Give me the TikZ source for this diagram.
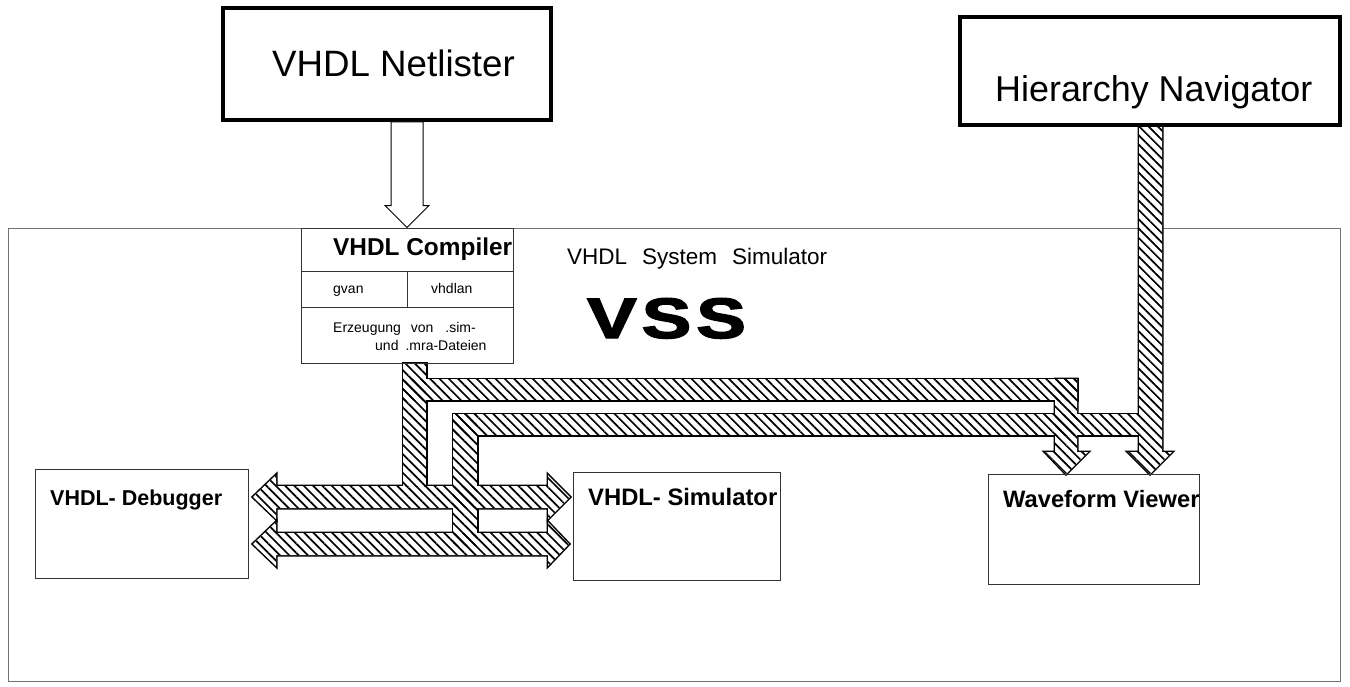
\documentclass[tikz,border=0pt]{standalone}
\usepackage{fontspec}
\usepackage{graphicx}
\setmainfont{Liberation Sans}
\newfontfamily\vssfont[FakeBold=2.5]{Liberation Sans Bold}
\usetikzlibrary{positioning,calc,patterns.meta}
\newcommand{\fsz}[1]{\fontsize{#1}{#1}\selectfont}

% hatched buses: every piece, painted three times (outline, white, hatch)
\newcommand{\buspieces}[1]{%
  \path[#1] (403,363) rectangle (426,486);
  \path[#1] (403,379) rectangle (1077,400);
  \path[#1] (453,414) rectangle (477,545);
  \path[#1] (453,414) rectangle (1139,435);
  \path[#1] (1055,379) -- (1055,452) -- (1045,452) -- (1066,474) -- (1088,452) -- (1077,452) -- (1077,379) -- cycle;
  \path[#1] (1139,125) -- (1139,452) -- (1128,452) -- (1150,474) -- (1172,452) -- (1162,452) -- (1162,125) -- cycle;
  \path[#1] (253,497) -- (276,475) -- (276,486) -- (548,486) -- (548,475) -- (570,497) -- (548,519) -- (548,508) -- (276,508) -- (276,519) -- cycle;
  \path[#1] (253,544) -- (276,522) -- (276,533) -- (548,533) -- (548,522) -- (569,544) -- (548,566) -- (548,555) -- (276,555) -- (276,566) -- cycle;
}

\begin{document}
\begin{tikzpicture}[
  x=1pt, y=-1pt,
  box/.style    ={draw=black!80, line width=1pt, inner sep=0pt},
  bigbox/.style ={draw, line width=3.5pt, inner sep=0pt},
  frame/.style  ={draw=black!55, line width=1pt, inner sep=0pt},
  lbl/.style    ={inner sep=0pt, anchor=base west},
  hollow/.style ={draw, fill=white, line width=1pt},
  hatch/.style  ={pattern={Lines[angle=-45,distance=6.6pt,line width=1.7pt]}}
]
\useasboundingbox (0,0) rectangle (1350,686);

% ---- outer frame: VSS ----
\node[frame, minimum width=1332pt, minimum height=453pt] (vss) at (674,454.5) {};
\node[lbl] (vsstitle) at (567,264) {\fsz{22.5}VHDL\hspace{15pt}System\hspace{15pt}Simulator};
\node[lbl] (vssbig) at (587,338) {\scalebox{1.3}[1]{\fsz{57}\vssfont V\hspace{4pt}S\hspace{4pt}S}};

% ---- hatched buses ----
\buspieces{draw, line width=3pt}
\buspieces{fill=white}
\buspieces{hatch}

% ---- tools outside ----
\node[bigbox, minimum width=328pt, minimum height=112pt] (netlister) at (387,64) {};
\node[lbl] (nltext) at (272,76) {\fsz{36.7}VHDL Netlister};
\node[bigbox, minimum width=380pt, minimum height=108pt] (navigator) at (1150,71) {};
\node[lbl] (navtext) at (995,101.5) {\fsz{35.9}Hierarchy Navigator};

% ---- compiler ----
\node[box, minimum width=212pt, minimum height=135pt] (compiler) at (407,295.5) {};
\draw[box] ($(compiler.north west)+(0,44)$) -- ($(compiler.north east)+(0,44)$);
\draw[box] ($(compiler.north west)+(0,80)$) -- ($(compiler.north east)+(0,80)$);
\draw[box] ($(compiler.north)+(0,44)$) -- ($(compiler.north)+(0,80)$);
\node[lbl] (comptitle) at (333,255) {\fsz{24.4}\bfseries VHDL Compiler};
\node[lbl] (gvan) at (333,293) {\fsz{14}gvan};
\node[lbl] (vhdlan) at (431,293) {\fsz{14}vhdlan};
\node[lbl] (erz1) at (333,332) {\fsz{14}Erzeugung\hspace{10pt}von\hspace{12pt}.sim-};
\node[lbl] (erz2) at (375,350) {\fsz{14}und\hspace{7pt}.mra-Dateien};

\draw[hollow] ($(netlister.south -| compiler.north)+(-16,0)$)
  -- ($(compiler.north)+(-16,-22)$) -- ($(compiler.north)+(-22,-22)$)
  -- (compiler.north)
  -- ($(compiler.north)+(22,-22)$) -- ($(compiler.north)+(16,-22)$)
  -- ($(netlister.south -| compiler.north)+(16,0)$) -- cycle;

% ---- tools inside ----
\node[box, minimum width=213pt, minimum height=109pt] (debugger) at (141.5,523.5) {};
\node[lbl] (dbgtext) at (50,505) {\fsz{21.5}\bfseries VHDL- Debugger};
\node[box, minimum width=207pt, minimum height=108pt] (simulator) at (676.5,526) {};
\node[lbl] (simtext) at (588,505) {\fsz{23.8}\bfseries VHDL- Simulator};
\node[box, minimum width=211pt, minimum height=110pt] (viewer) at (1093.5,529) {};
\node[lbl] (viewtext) at (1003,507) {\fsz{23.7}\bfseries Waveform Viewer};

\end{tikzpicture}
\end{document}
